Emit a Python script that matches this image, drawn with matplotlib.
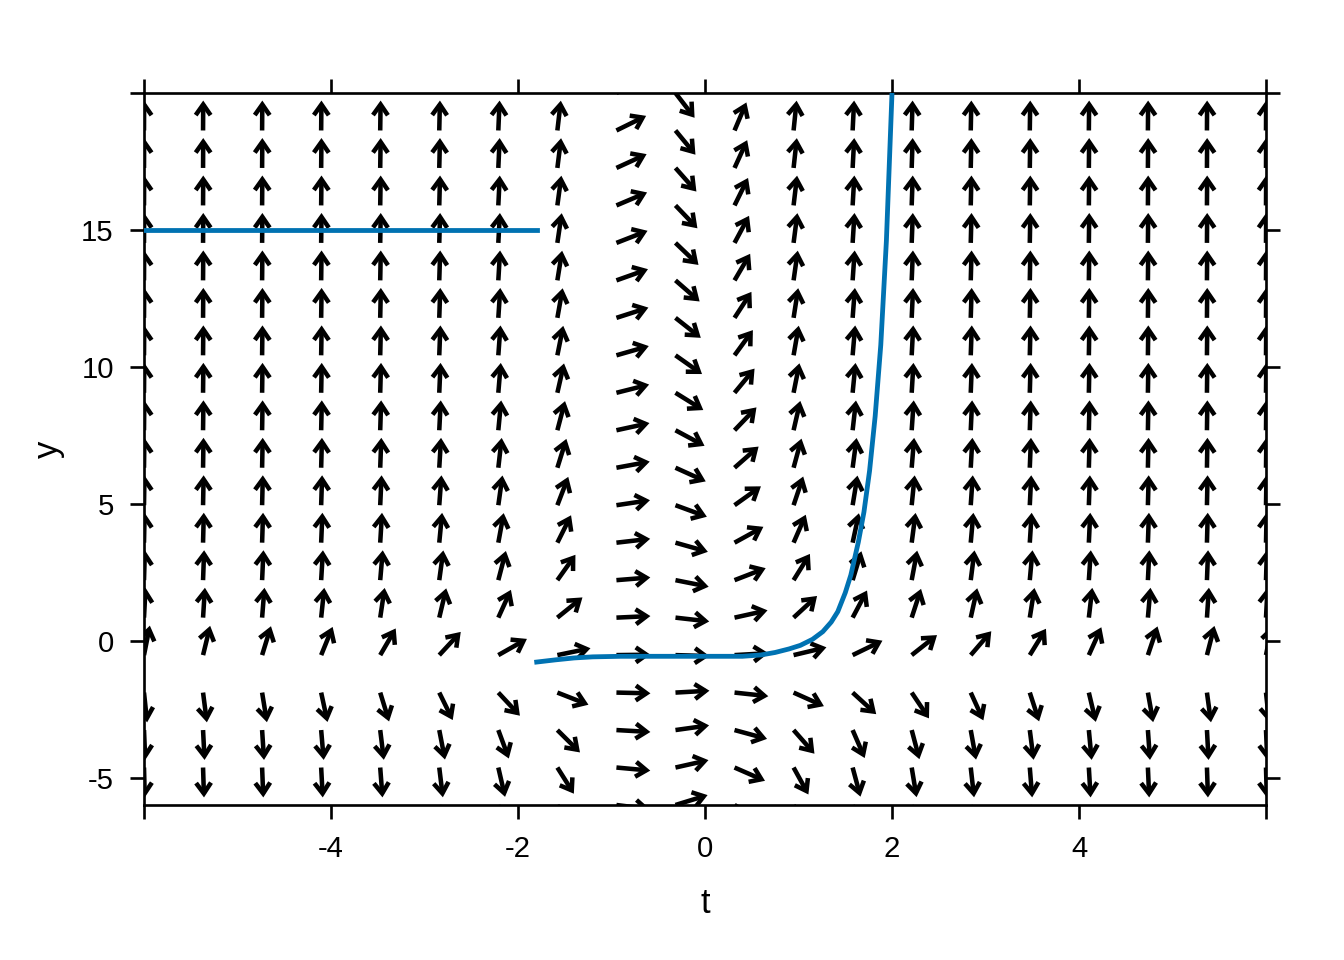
import numpy as np
import matplotlib
matplotlib.use("Agg")
import matplotlib.pyplot as plt
from matplotlib.patches import FancyArrowPatch


def slope(t, y):
    # right-hand side of the ODE behind the direction field: dy/dt
    return (t**2 + np.sin(t)) * (y + 1)


# grid of arrow tails
t_grid = np.linspace(-6, 6, 20)
y_grid = np.linspace(-6, 20, 20)

# solution curve
sol_t = [-1.80, -1.60, -1.40, -1.20, -0.90, -0.50, 0.00, 0.40, 0.60, 0.75,
         0.90, 1.02, 1.15, 1.26, 1.35, 1.42, 1.50, 1.56, 1.64, 1.70,
         1.76, 1.82, 1.88, 1.94, 2.00]
sol_y = [-0.78, -0.70, -0.63, -0.59, -0.57, -0.57, -0.57, -0.57, -0.52, -0.43,
         -0.30, -0.17, 0.05, 0.33, 0.68, 1.06, 1.75, 2.40, 3.60, 4.70,
         6.20, 8.20, 10.80, 14.60, 20.00]

# flat segment on the left
flat_t = [-6.0, -1.8]
flat_y = [15.0, 15.0]

x_ticks = [-6, -4, -2, 0, 2, 4, 6]
x_labels = ['', '-4', '-2', '0', '2', '4', '']
y_ticks = [-5, 0, 5, 10, 15, 20]
y_labels = ['-5', '0', '5', '10', '15', '']

plt.rcParams['font.family'] = ['Liberation Sans', 'DejaVu Sans']

fig = plt.figure(figsize=(7, 5), dpi=192)
ax = fig.add_axes([144 / 1344, 1 - 805 / 960, 1122 / 1344, 712 / 960])
ax.set_xlim(-6, 6)
ax.set_ylim(-6, 20)

# arrow size in data units (horizontal / vertical extremes)
Lt, Ly = 0.364, 1.093
for t in t_grid:
    for y in y_grid:
        f = slope(t, y)
        n = np.hypot(1 / Lt, f / Ly)
        arr = FancyArrowPatch((t, y), (t + 1 / n, y + f / n),
                              arrowstyle='->,head_length=4.0,head_width=2.8',
                              mutation_scale=1, lw=1.7, color='black',
                              shrinkA=0, shrinkB=0, joinstyle='miter',
                              capstyle='butt')
        ax.add_patch(arr)

ax.plot(flat_t, flat_y, color='#0072B2', lw=1.8, zorder=3)
ax.plot(sol_t, sol_y, color='#0072B2', lw=1.8, zorder=3)

ax.set_xticks(x_ticks)
ax.set_xticklabels(x_labels)
ax.set_yticks(y_ticks)
ax.set_yticklabels(y_labels)
ax.tick_params(direction='out', length=5.3, width=1, top=True, right=True,
               labelsize=11, pad=6)
for sp in ax.spines.values():
    sp.set_linewidth(1)

ax.set_xlabel('t', fontsize=13, labelpad=9)
ax.set_ylabel('y', fontsize=13, labelpad=6)

fig.savefig('out.png', dpi=192)
